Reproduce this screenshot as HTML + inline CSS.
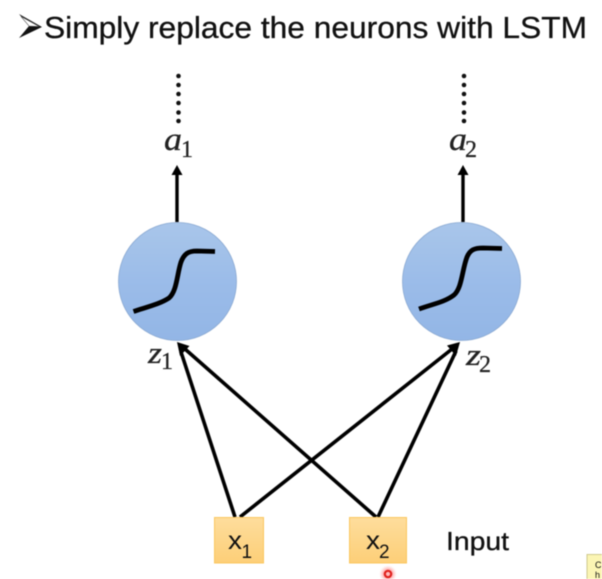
<!DOCTYPE html>
<html>
<head>
<meta charset="utf-8">
<style>
html,body{margin:0;padding:0;background:#fff;width:602px;height:579px;overflow:hidden}
svg{display:block;filter:blur(.45px)}
text{font-family:"Liberation Sans",sans-serif;fill:#111}
.m{font-family:"Liberation Serif",serif;font-style:italic;fill:#222;stroke:#222;stroke-width:.3px}
.s{font-family:"Liberation Serif",serif;fill:#222;stroke:#222;stroke-width:.3px}
.t{stroke:#111;stroke-width:.3px}
</style>
</head>
<body>
<svg width="602" height="579" viewBox="0 0 602 579" xmlns="http://www.w3.org/2000/svg">
<defs>
<linearGradient id="c" x1="0" y1="0" x2="0" y2="1">
<stop offset="0" stop-color="#a9c6ea"/><stop offset=".5" stop-color="#9bbce9"/><stop offset="1" stop-color="#93b6e6"/>
</linearGradient>
<linearGradient id="b" x1="0" y1="0" x2="0" y2="1">
<stop offset="0" stop-color="#fedd9c"/><stop offset="1" stop-color="#fdcf78"/>
</linearGradient>
<radialGradient id="r"><stop offset="0" stop-color="#f66" stop-opacity=".8"/><stop offset=".6" stop-color="#f88" stop-opacity=".5"/><stop offset="1" stop-color="#fcc" stop-opacity="0"/></radialGradient>
</defs>

<!-- title -->
<polygon points="19,14 42,27 19,38 29,26" fill="#111"/>
<polygon points="21,16.5 39,26.5 29,26" fill="#fff" stroke="#555" stroke-width=".6"/>
<text class="t" x="44" y="38" font-size="31" textLength="543" lengthAdjust="spacingAndGlyphs">Simply replace the neurons with LSTM</text>

<!-- dots -->
<g fill="#111">
<circle cx="178.500" cy="76" r="2.300"/><circle cx="178.500" cy="85" r="2.300"/><circle cx="178.500" cy="94" r="2.300"/><circle cx="178.500" cy="103" r="2.300"/><circle cx="178.500" cy="112.500" r="2.300"/><circle cx="178.500" cy="121" r="2.300"/>
<circle cx="464" cy="76" r="2.300"/><circle cx="464" cy="85" r="2.300"/><circle cx="464" cy="94" r="2.300"/><circle cx="464" cy="103" r="2.300"/><circle cx="464" cy="112.500" r="2.300"/><circle cx="464" cy="121" r="2.300"/>
</g>

<!-- a labels -->
<text class="m" x="164" y="150" font-size="33" textLength="18" lengthAdjust="spacingAndGlyphs">a</text>
<text class="s" x="181" y="157" font-size="24">1</text>
<text class="m" x="449" y="150" font-size="33" textLength="18" lengthAdjust="spacingAndGlyphs">a</text>
<text class="s" x="465" y="157" font-size="24">2</text>

<!-- up arrows -->
<g stroke="#000" stroke-width="3.400" fill="none">
<line x1="177" y1="222" x2="177" y2="173"/>
<line x1="463" y1="222" x2="463" y2="173"/>
</g>
<polygon points="177,165 182.500,175 171.500,175" fill="#000"/>
<polygon points="463,165 468.500,175 457.500,175" fill="#000"/>

<!-- circles -->
<circle cx="177.500" cy="281.500" r="59" fill="url(#c)" stroke="#8aa9d2" stroke-width=".8"/>
<circle cx="461.500" cy="281.500" r="59" fill="url(#c)" stroke="#8aa9d2" stroke-width=".8"/>

<!-- sigmoid curves -->
<g fill="none" stroke="#000" stroke-width="4.800">
<path d="M133.500,311.500 C147,307 160,304 169,298 C177,291 177,274 181,262 C184,254 188,251 197,251 L215,251.500"/>
<path d="M419,309 C433,304 445,302 454,295 C462,288 462,270 467,257 C470,250 474,248 483,248 L502,248.500"/>
</g>

<!-- crossing connectors -->
<g stroke="#000" stroke-width="3.600" fill="none">
<line x1="235" y1="517" x2="181" y2="352"/>
<line x1="376" y1="517" x2="185" y2="349"/>
<line x1="240" y1="517" x2="452" y2="349"/>
<line x1="378" y1="517" x2="456" y2="351"/>
</g>
<polygon points="177,342 189.500,346 180,356" fill="#000"/>
<polygon points="460,342 456,356 447,345.500" fill="#000"/>

<!-- z labels -->
<text class="m" x="148" y="363" font-size="31" textLength="14" lengthAdjust="spacingAndGlyphs">z</text>
<text class="s" x="161" y="369" font-size="24">1</text>
<text class="m" x="466" y="365" font-size="31" textLength="15" lengthAdjust="spacingAndGlyphs">z</text>
<text class="s" x="479" y="372" font-size="24">2</text>

<!-- input boxes -->
<rect x="214.500" y="517.500" width="49" height="45.500" fill="url(#b)" stroke="#fbc75f" stroke-width="1"/>
<rect x="349.500" y="517.500" width="57" height="45.500" fill="url(#b)" stroke="#fbc75f" stroke-width="1"/>
<text x="228" y="549" font-size="26" textLength="14" lengthAdjust="spacingAndGlyphs">x</text>
<text x="241.500" y="558" font-size="19">1</text>
<text x="366" y="549" font-size="26" textLength="14" lengthAdjust="spacingAndGlyphs">x</text>
<text x="379" y="558" font-size="19">2</text>

<text class="t" x="446" y="550" font-size="26" textLength="63" lengthAdjust="spacingAndGlyphs">Input</text>

<!-- cursor highlight -->
<circle cx="388" cy="574" r="9" fill="url(#r)"/>
<circle cx="388" cy="574" r="3.200" fill="#fbb" stroke="#e0201c" stroke-width="2.200"/>

<!-- tooltip -->
<rect x="587" y="554.500" width="16" height="26" fill="#fbf5b4" stroke="#cfc98c" stroke-width="1"/>
<text x="595" y="568" font-size="9" fill="#333">C</text>
<text x="595" y="578" font-size="9" fill="#333">h</text>
</svg>
</body>
</html>
